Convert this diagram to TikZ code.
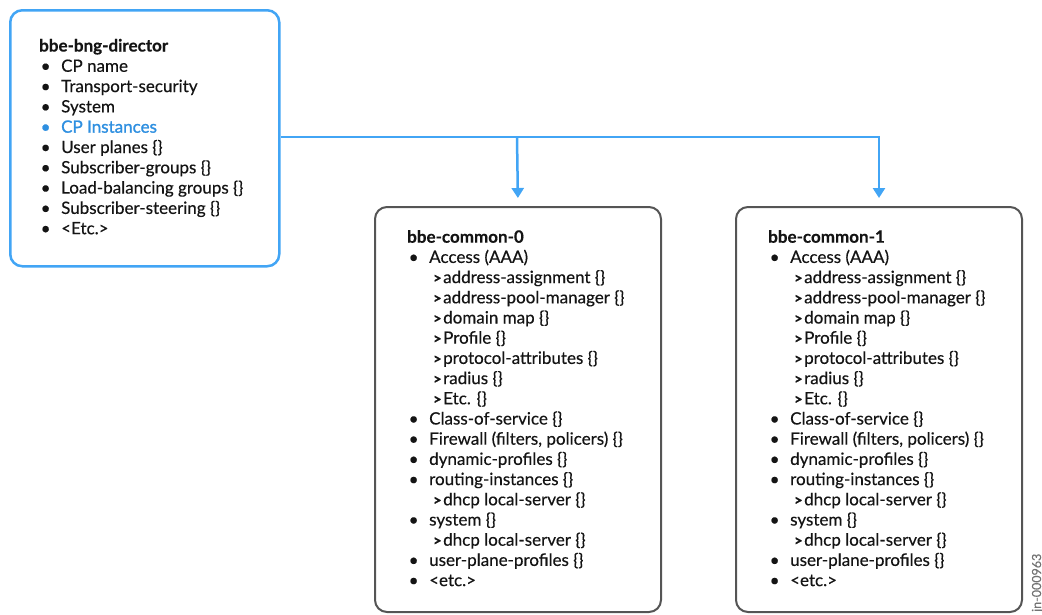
\documentclass[tikz,border=0pt]{standalone}
\usepackage{fontspec}
\setmainfont{Lato}[FakeBold=0.4]
\newfontfamily\semibold{Lato}[FakeBold=1.3]
\newfontfamily\chevfont{Lato Bold}[FakeBold=1.2]
\usetikzlibrary{arrows.meta}

\definecolor{linkblue}{HTML}{42A5F5}
\definecolor{textblue}{HTML}{2E8FE0}
\definecolor{boxgray}{HTML}{555555}
\definecolor{ink}{HTML}{141414}

% list lines: bullet item and chevron sub-item
\newcommand\itm[1]{\makebox[22pt][l]{\hspace{1.5pt}\textbullet}#1\par}
\newcommand\subitm[1]{\hspace{26pt}\makebox[10pt][l]{{\chevfont\fontsize{14.5}{14.5}\selectfont >}}#1\par}
\newcommand\listfont[1]{\fontsize{17}{#1}\selectfont}

\tikzset{
  bluebox/.style={draw=linkblue, line width=2.5pt, rounded corners=12pt,
    anchor=north west, inner sep=0pt},
  graybox/.style={draw=boxgray, line width=2pt, rounded corners=12pt,
    anchor=north west, inner sep=0pt, minimum width=286pt, minimum height=405pt},
  txt/.style={anchor=base west, inner sep=0pt, text=ink},
  conn/.style={draw=linkblue, line width=2.5pt,
    -{Triangle[length=10pt,width=12pt]}, shorten >=8pt},
}

\begin{document}
\begin{tikzpicture}[x=1pt,y=-1pt]
\useasboundingbox (0,0) rectangle (1042,614);

% boxes
\node[bluebox, minimum width=269pt, minimum height=256pt] (dir) at (9,9) {};
\node[graybox] (c0) at (374,206) {};
\node[graybox] (c1) at (735,206) {};

% director contents
\node[txt] (dirtext) at (39,51.5) {\parbox[t]{235pt}{\listfont{20.3pt}
\textbf{bbe-bng-director}\par
\itm{CP name}
\itm{Transport-security}
\itm{System}
{\color{textblue}\semibold\itm{CP Instances}}
\itm{User planes \{\}}
\itm{Subscriber-groups \{\}}
\itm{Load-balancing groups \{\}}
\itm{Subscriber-steering \{\}}
\itm{<Etc.>}}};

% common instance contents
\newcommand\commonlist[1]{\parbox[t]{260pt}{\listfont{20.2pt}
\textbf{bbe-common-#1}\par
\itm{Access (AAA)}
\subitm{address-assignment \{\}}
\subitm{address-pool-manager \{\}}
\subitm{domain map \{\}}
\subitm{Profile \{\}}
\subitm{protocol-attributes \{\}}
\subitm{radius \{\}}
\subitm{Etc. \{\}}
\itm{Class-of-service \{\}}
\itm{Firewall (filters, policers) \{\}}
\itm{dynamic-profiles \{\}}
\itm{routing-instances \{\}}
\subitm{dhcp local-server \{\}}
\itm{system \{\}}
\subitm{dhcp local-server \{\}}
\itm{user-plane-profiles \{\}}
\itm{<etc.>}}}
\node[txt] (c0text) at (407,242.7) {\commonlist{0}};
\node[txt] (c1text) at (768,242.7) {\commonlist{1}};

% connectors
\coordinate (split) at (517,137);
\draw[conn] (dir.east |- split) -| (c1.north);
\draw[conn] (split) -- (c0.north);

% figure id
\node[rotate=90, anchor=base west, inner sep=0pt, text=black!55,
  font=\fontsize{12.5}{15}\selectfont] (figid) at (1041,612) {jn-000963};
\end{tikzpicture}
\end{document}
